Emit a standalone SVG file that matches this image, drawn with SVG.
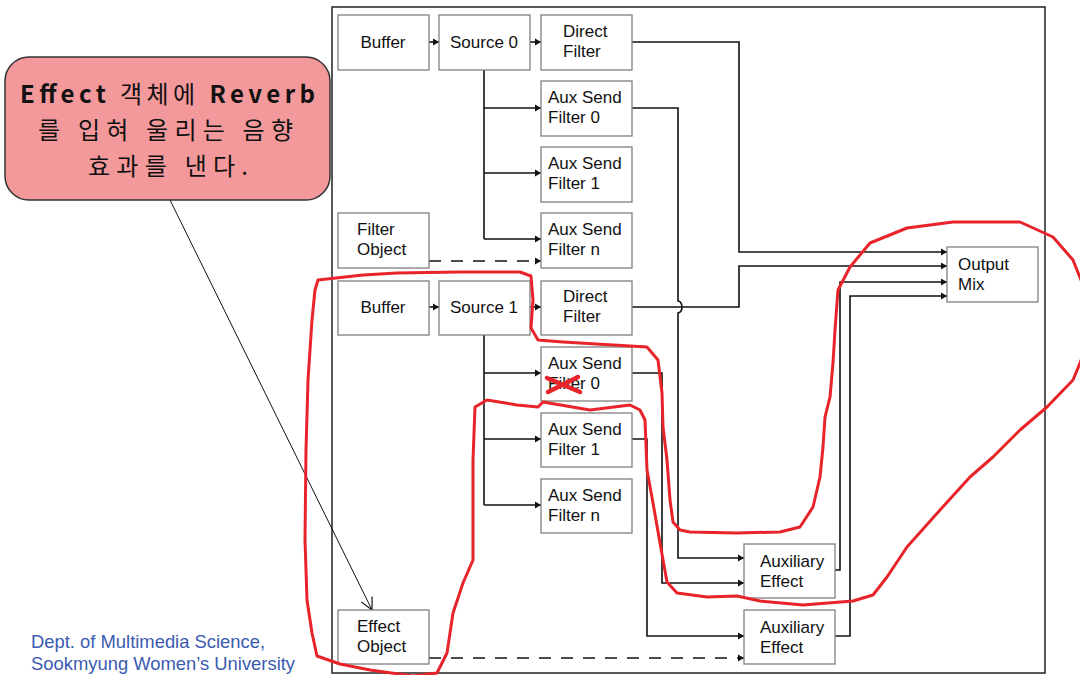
<svg xmlns="http://www.w3.org/2000/svg" width="1080" height="675" viewBox="0 0 1080 675">
<style>
.box{fill:#fff;stroke:#808080;stroke-width:1.3}
.t{font-family:"Liberation Sans",Arial,sans-serif;font-size:17px;fill:#111}
.c{fill:none;stroke:#111;stroke-width:1.6}
.d{fill:none;stroke:#111;stroke-width:1.6;stroke-dasharray:12 10}
.red{fill:none;stroke:#e8242b;stroke-width:3;stroke-linejoin:round;stroke-linecap:round}
.foot{font-family:"Liberation Sans",Arial,sans-serif;font-size:18.4px;fill:#3a5bb0}
.k{font-family:"Noto Sans CJK KR",sans-serif;font-size:24px;fill:#111}
</style>
<defs>
<marker id="ah" markerWidth="8" markerHeight="8" refX="7" refY="4" orient="auto" markerUnits="userSpaceOnUse">
<path d="M1,0.5 L7,4 L1,7.5 Z" fill="#111"/>
</marker>
<marker id="va" markerWidth="16" markerHeight="16" refX="14" refY="8" orient="auto" markerUnits="userSpaceOnUse">
<path d="M2,2 L14,8 L2,14" fill="none" stroke="#111" stroke-width="1.2"/>
</marker>
</defs>
<rect width="1080" height="675" fill="#fff"/>
<rect id="frame" x="332" y="7" width="713" height="666" fill="none" stroke="#222" stroke-width="1.5"/>

<g id="connectors">
<path class="c" d="M429,42 H439" marker-end="url(#ah)"/>
<path class="c" d="M530,42 H541" marker-end="url(#ah)"/>
<path class="c" d="M484,70 V239"/>
<path class="c" d="M484,108 H541" marker-end="url(#ah)"/>
<path class="c" d="M484,173 H541" marker-end="url(#ah)"/>
<path class="c" d="M484,239 H541" marker-end="url(#ah)"/>
<path class="d" d="M429,261 H541" marker-end="url(#ah)"/>
<path class="c" d="M632,42 H739 V252 H947" marker-end="url(#ah)"/>
<path class="c" d="M632,108 H678 V301 a4,6 0 0 1 0,12 V558 H744" marker-end="url(#ah)"/>
<path class="c" d="M429,307 H439" marker-end="url(#ah)"/>
<path class="c" d="M530,307 H541" marker-end="url(#ah)"/>
<path class="c" d="M632,307 H739 V266 H947" marker-end="url(#ah)"/>
<path class="c" d="M484,335 V505"/>
<path class="c" d="M484,373 H541" marker-end="url(#ah)"/>
<path class="c" d="M484,439 H541" marker-end="url(#ah)"/>
<path class="c" d="M484,505 H541" marker-end="url(#ah)"/>
<path class="c" d="M632,373 H662 V583 H744" marker-end="url(#ah)"/>
<path class="c" d="M632,439 H647 V636 H744" marker-end="url(#ah)"/>
<path class="c" d="M835,570 H840 V282 H947" marker-end="url(#ah)"/>
<path class="c" d="M835,636 H850 V296 H947" marker-end="url(#ah)"/>
<path class="d" d="M429,658 H744" marker-end="url(#ah)"/>
<path d="M170,200 L372,610" fill="none" stroke="#111" stroke-width="1" marker-end="url(#va)"/>
</g>

<g id="buffer0"><rect class="box" x="338" y="15" width="91" height="55"/><text class="t" x="383" y="48" text-anchor="middle">Buffer</text></g>
<g id="source0"><rect class="box" x="439" y="15" width="91" height="55"/><text class="t" x="484" y="48" text-anchor="middle">Source 0</text></g>
<g id="direct0"><rect class="box" x="541" y="15" width="91" height="55"/><text class="t" x="563" y="37">Direct</text><text class="t" x="563" y="57">Filter</text></g>
<g id="aux00"><rect class="box" x="541" y="81" width="91" height="55"/><text class="t" x="548" y="103">Aux Send</text><text class="t" x="548" y="123">Filter 0</text></g>
<g id="aux01"><rect class="box" x="541" y="147" width="91" height="55"/><text class="t" x="548" y="169">Aux Send</text><text class="t" x="548" y="189">Filter 1</text></g>
<g id="aux0n"><rect class="box" x="541" y="213" width="91" height="55"/><text class="t" x="548" y="235">Aux Send</text><text class="t" x="548" y="255">Filter n</text></g>
<g id="filterobj"><rect class="box" x="338" y="213" width="91" height="55"/><text class="t" x="357" y="235">Filter</text><text class="t" x="357" y="255">Object</text></g>
<g id="outputmix"><rect class="box" x="947" y="247" width="91" height="55"/><text class="t" x="958" y="270">Output</text><text class="t" x="958" y="290">Mix</text></g>

<g id="buffer1"><rect class="box" x="338" y="281" width="91" height="54"/><text class="t" x="383" y="313" text-anchor="middle">Buffer</text></g>
<g id="source1"><rect class="box" x="439" y="281" width="91" height="54"/><text class="t" x="484" y="313" text-anchor="middle">Source 1</text></g>
<g id="direct1"><rect class="box" x="541" y="281" width="91" height="54"/><text class="t" x="563" y="302">Direct</text><text class="t" x="563" y="322">Filter</text></g>
<g id="aux10"><rect class="box" x="541" y="347" width="91" height="54"/><text class="t" x="548" y="369">Aux Send</text><text class="t" x="548" y="389">Filter 0</text></g>
<g id="aux11"><rect class="box" x="541" y="413" width="91" height="54"/><text class="t" x="548" y="435">Aux Send</text><text class="t" x="548" y="455">Filter 1</text></g>
<g id="aux1n"><rect class="box" x="541" y="479" width="91" height="54"/><text class="t" x="548" y="501">Aux Send</text><text class="t" x="548" y="521">Filter n</text></g>
<g id="auxeffect1"><rect class="box" x="744" y="544" width="91" height="54"/><text class="t" x="760" y="567">Auxiliary</text><text class="t" x="760" y="587">Effect</text></g>
<g id="auxeffect2"><rect class="box" x="744" y="610" width="91" height="54"/><text class="t" x="760" y="633">Auxiliary</text><text class="t" x="760" y="653">Effect</text></g>
<g id="effectobj"><rect class="box" x="338" y="610" width="91" height="54"/><text class="t" x="357" y="632">Effect</text><text class="t" x="357" y="652">Object</text></g>

<g id="callout">
<rect x="5" y="57" width="325" height="143" rx="24" ry="24" fill="#f4999b" stroke="#333" stroke-width="1.5"/>
<text class="k" x="20" y="103" textLength="295" lengthAdjust="spacing"><tspan font-weight="bold">Effect</tspan> 객체에 <tspan font-weight="bold">Reverb</tspan></text>
<text class="k" x="38" y="139" textLength="255" lengthAdjust="spacing">를 입혀 울리는 음향</text>
<text class="k" x="88" y="175" textLength="160" lengthAdjust="spacing">효과를 낸다.</text>
</g>

<g id="footer">
<text class="foot" x="31" y="648">Dept. of Multimedia Science,</text>
<text class="foot" x="31" y="670">Sookmyung Women’s University</text>
</g>

<g id="annotations">
<path class="red" d="M318,280 L363,275 L397,273 L460,272 L520,272 L531,276 L533,300 L531,328 L538,340 L563,342 L647,347 L658,360 L662,393 L663,427 L667,460 L670,500 L673,522 L680,530 L690,532 L737,533 L780,532 L800,527 L813,507 L820,477 L823,447 L825,417 L830,397 L833,363 L835,330 L838,290 L850,267 L870,243 L907,228 L953,222 L1020,222 L1053,237 L1073,260 L1085,290 L1085,350 L1080,363 L1073,380 L1047,407 L1020,430 L993,457 L970,477 L940,510 L907,547 L887,577 L873,595 L853,601 L803,605 L760,601 L737,596 L707,597 L677,593 L667,582 L660,543 L653,503 L647,470 L645,420 L640,410 L630,405 L590,410 L543,402 L538,407 L517,405 L487,400 L475,407 L473,460 L473,560 L463,583 L453,613 L447,653 L437,673 L413,676 L370,670 L340,664 L317,656 L312,633 L307,600 L305,540 L306,450 L308,380 L312,320 L315,290 Z"/>
<path d="M547,378 L580,392 M548,392 L578,377" fill="none" stroke="#e8242b" stroke-width="4.5" stroke-linecap="round"/>
</g>
</svg>
